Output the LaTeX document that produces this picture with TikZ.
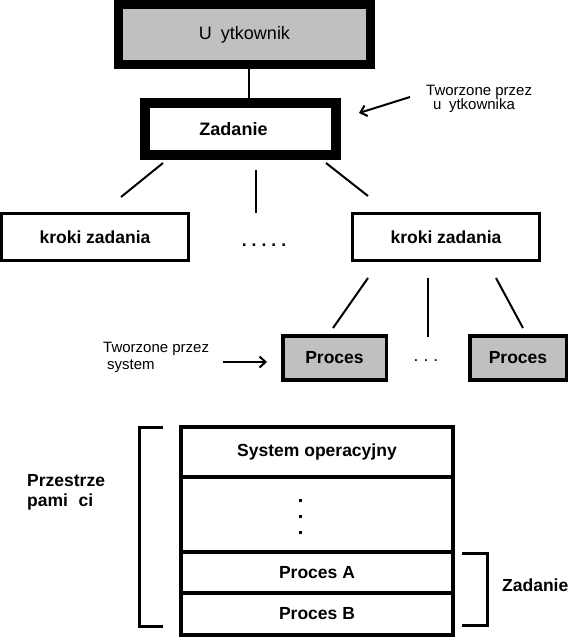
\documentclass[tikz,border=0pt]{standalone}
\usepackage{fontspec}
\setmainfont{Liberation Sans}
\usetikzlibrary{arrows.meta}
\definecolor{boxgray}{HTML}{C0C0C0}
\pgfdeclarelayer{bg}
\pgfsetlayers{bg,main}

\begin{document}
\begin{tikzpicture}[x=1pt, y=-1pt,
    bigbox/.style={draw, line width=9.5pt, inner sep=0pt},
    stepbox/.style={draw, line width=2.5pt, inner sep=0pt, minimum width=187pt, minimum height=47pt, font=\fontsize{17.5}{21}\selectfont\bfseries},
    procbox/.style={draw, fill=boxgray, line width=3.5pt, inner sep=0pt, minimum height=44pt, font=\fontsize{17.5}{21}\selectfont\bfseries},
    memcell/.style={draw, line width=4pt, inner sep=0pt, minimum width=272pt, font=\fontsize{17.5}{21}\selectfont\bfseries},
    conn/.style={line width=2pt},
    pointer/.style={line width=2pt, -{Straight Barb[length=6pt,width=11pt]}},
    bracket/.style={line width=3pt}]
  \useasboundingbox (0,0) rectangle (574,638);

  \node (user) [bigbox, fill=boxgray, minimum width=252pt, minimum height=60pt, font=\fontsize{18}{21}\selectfont] at (244.5,34.5) {U\hspace{0.5em}ytkownik};
  \node (job) [bigbox, fill=white, minimum width=191pt, minimum height=52pt, font=\fontsize{18}{21}\selectfont\bfseries] at (240.5,129) {\hspace{-14pt}Zadanie};

  \node (usernote) [anchor=west, align=left, inner sep=0pt, font=\fontsize{15}{14}\selectfont] at (426,99) {Tworzone przez\\\hspace{7pt}u\hspace{0.5em}ytkownika};
  \coordinate (un1) at (410,97);
  \coordinate (un2) at (359,113);

    \node (step1) [stepbox] at (95,237) {kroki zadania};
    \node (stepdots) [font=\fontsize{17.5}{21}\selectfont\bfseries, inner sep=0pt] at (264,245) {.\hspace{5pt}.\hspace{5pt}.\hspace{5pt}.\hspace{5pt}.};
    \node (step2) [stepbox] at (446,237) {kroki zadania};

    \node (proc1) [procbox, minimum width=103.5pt] at (334.5,358) {Proces};
    \node (procdots) [font=\fontsize{17.5}{21}\selectfont, inner sep=0pt] at (426,361) {.\hspace{5pt}.\hspace{5pt}.};
    \node (proc2) [procbox, minimum width=96.5pt] at (518,358) {Proces};

  \node (sysnote) [anchor=west, align=left, inner sep=0pt, font=\fontsize{15}{17}\selectfont] at (103,357.5) {Tworzone przez\\\hspace{4pt}system};
  \coordinate (sn1) at (223,362);
  \coordinate (sn2) at (267,362);

  % lines between levels
  \coordinate (j1) at (163,163); \coordinate (s1) at (121,197);
  \coordinate (j2) at (256,170); \coordinate (s2) at (256,213);
  \coordinate (j3) at (326,163); \coordinate (s3) at (368,196);
  \coordinate (k1) at (368,278); \coordinate (p1) at (333,328);
  \coordinate (k2) at (428,278); \coordinate (p2) at (428,337);
  \coordinate (k3) at (496,278); \coordinate (p3) at (523,328);

  % memory
  \node (os) [memcell, minimum height=50pt] at (317,452) {System operacyjny};
  \node (free) [memcell, minimum height=75pt] at (317,514.5) {};
  \node (procA) [memcell, minimum height=41pt] at (317,572.5) {Proces A};
  \node (procB) [memcell, minimum height=42pt] at (317,614) {Proces B};
  \foreach \y in {500,516,532}
    \fill (298.5,\y-1.5) rectangle (301.5,\y+1.5);

  \node (space) [anchor=west, align=left, inner sep=0pt, font=\fontsize{17.5}{20}\selectfont\bfseries] at (27,492) {Przestrze\\pami\hspace{0.6em}ci};
  \node (jobmem) [anchor=west, inner sep=0pt, font=\fontsize{17.5}{21}\selectfont\bfseries] at (502,585) {Zadanie};

  \begin{pgfonlayer}{bg}
	  \draw[conn] ([xshift=4.5pt]user.south) -- ([xshift=4.5pt]user.south |- job.north);
	  \draw[conn] (j1) edge (s1); \draw[conn] (j2) edge (s2); \draw[conn] (j3) edge (s3);
	  \draw[conn] (k1) edge (p1); \draw[conn] (k2) edge (p2); \draw[conn] (k3) edge (p3);
  \end{pgfonlayer}

  \draw[pointer] (un1) -- (un2);
  \draw[pointer] (sn1) -- (sn2);

  \draw[bracket] (163,427) -- (139,427) -- (139,626) -- (163,626);
  \draw[bracket] (462,553) -- (487,553) -- (487,625) -- (462,625);
\end{tikzpicture}
\end{document}
